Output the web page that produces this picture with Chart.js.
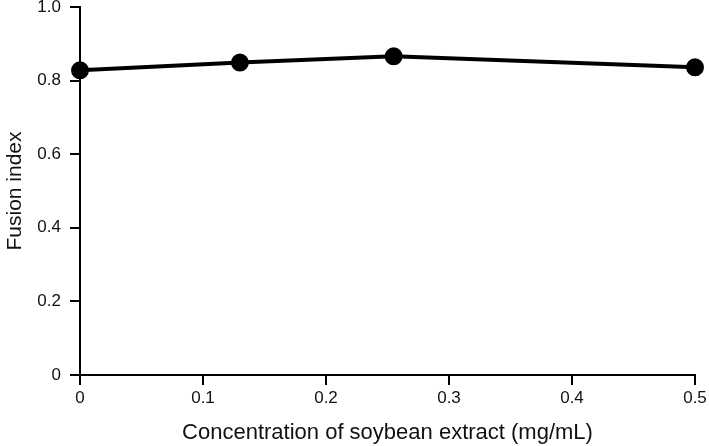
<!DOCTYPE html>
<html>
<head>
<meta charset="utf-8">
<style>
  html, body { margin: 0; padding: 0; background: #fff; }
  #wrap { width: 709px; height: 446px; }
</style>
<script src="https://cdn.jsdelivr.net/npm/chart.js@4/dist/chart.umd.min.js"></script>
</head>
<body>
<div id="wrap"><canvas id="grafico"></canvas></div>
<script>
// data
const concentraciones = [0, 0.13, 0.255, 0.5];
const fusionIndex = [0.828, 0.849, 0.866, 0.836];
const xTicks = [0, 0.1, 0.2, 0.3, 0.4, 0.5];
const yTicks = [0, 0.2, 0.4, 0.6, 0.8, 1.0];

const puntos = concentraciones.map((c, i) => ({ x: c, y: fusionIndex[i] }));
const fuente = "'Liberation Sans', Arial, Helvetica, sans-serif";

// axis ticks drawn outward, no grid lines inside the plot
const rejilla = { display: true, drawOnChartArea: false, drawTicks: true, tickLength: 10, color: "#000", lineWidth: 2, tickColor: "#000", tickWidth: 2 };

const ctx = document.getElementById("grafico").getContext("2d");
new Chart(ctx, {
  type: "scatter",
  data: {
    datasets: [{
      data: puntos,
      showLine: true,
      clip: false,
      borderColor: "#000",
      borderWidth: 4,
      pointRadius: 7,
      pointHoverRadius: 7,
      pointBackgroundColor: "#000",
      pointBorderColor: "#000",
      tension: 0
    }]
  },
  options: {
    responsive: true,
    maintainAspectRatio: false,
    animation: false,
    layout: { autoPadding: false, padding: 0 },
    plugins: { legend: { display: false }, tooltip: { enabled: false } },
    scales: {
      x: {
        type: "linear",
        min: 0,
        max: 0.5,
        afterBuildTicks: s => { s.ticks = xTicks.map(v => ({ value: v })); },
        afterFit: s => { s.height = 71; s.paddingRight = 14; s.paddingLeft = 0; },
        ticks: {
          color: "#111",
          font: { family: fuente, size: 17 },
          padding: 3,
          maxRotation: 0,
          callback: v => v === 0 ? "0" : v.toFixed(1)
        },
        grid: rejilla,
        border: { display: true, color: "#000", width: 2 },
        title: {
          display: true,
          text: "Concentration of soybean extract (mg/mL)",
          color: "#111",
          font: { family: fuente, size: 22 },
          padding: { top: 2, bottom: 0 }
        }
      },
      y: {
        min: 0,
        max: 1.0,
        afterBuildTicks: s => { s.ticks = yTicks.map(v => ({ value: v })); },
        afterFit: s => { s.width = 80; s.paddingTop = 7; s.paddingBottom = 0; },
        ticks: {
          color: "#111",
          font: { family: fuente, size: 17 },
          padding: 9,
          callback: v => v === 0 ? "0" : v.toFixed(1)
        },
        grid: rejilla,
        border: { display: true, color: "#000", width: 2 },
        title: {
          display: true,
          text: "Fusion index",
          color: "#111",
          font: { family: fuente, size: 21 },
          padding: { top: 3, bottom: 0 }
        }
      }
    }
  }
});
</script>
</body>
</html>
